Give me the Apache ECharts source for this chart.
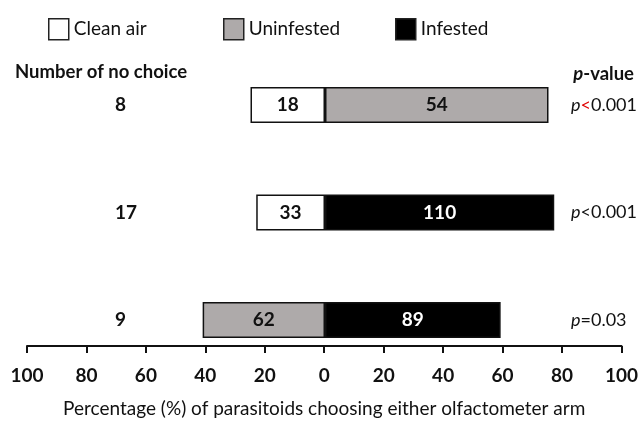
<!DOCTYPE html>
<html>
<head>
<meta charset="utf-8">
<script src="https://cdn.jsdelivr.net/npm/echarts@6/dist/echarts.min.js"></script>
<style>html,body{margin:0;padding:0;background:#fff}#c{width:641px;height:421px}</style>
</head>
<body>
<div id="c"></div>
<script>
// ---- data ----
const rows = ['Clean air vs Uninfested', 'Clean air vs Infested', 'Uninfested vs Infested'];
const noChoice = [8, 17, 9];
const leftOdour = ['Clean air', 'Clean air', 'Uninfested'];
const leftCounts = [18, 33, 62];
const rightOdour = ['Uninfested', 'Infested', 'Infested'];
const rightCounts = [54, 110, 89];
const pSign = ['<', '<', '='];
const pNumber = ['0.001', '0.001', '0.03'];
const pSignRed = [true, false, false];
const odours = ['Clean air', 'Uninfested', 'Infested'];
const odourColors = {'Clean air': '#ffffff', 'Uninfested': '#aeaaaa', 'Infested': '#000000'};
const odourLabelColors = {'Clean air': '#111', 'Uninfested': '#111', 'Infested': '#fff'};
const xMin = -100, xMax = 100, xStep = 20;

const FONT = 'Lato';

// build series data: left side negative percentage, right side positive
const series = odours.map(function (od) {
  const data = rows.map(function (r, i) {
    const total = leftCounts[i] + rightCounts[i];
    if (leftOdour[i] === od) return {value: -leftCounts[i] / total * 100, count: leftCounts[i]};
    if (rightOdour[i] === od) return {value: rightCounts[i] / total * 100, count: rightCounts[i]};
    return '-';
  });
  return {
    name: od,
    type: 'bar',
    stack: 'all',
    xAxisIndex: 0,
    yAxisIndex: 0,
    barWidth: 36,
    data: data,
    itemStyle: {color: odourColors[od], borderColor: '#111', borderWidth: 1.5},
    label: {
      show: true,
      position: 'inside',
      formatter: function (p) { return p.data.count; },
      color: odourLabelColors[od],
      fontFamily: FONT,
      fontWeight: 'bold',
      fontSize: 19
    },
    emphasis: {disabled: true}
  };
});

const legendPos = [43, 218, 390];
const legends = odours.map(function (od, i) {
  return {
    data: [od],
    left: legendPos[i],
    top: 13,
    itemWidth: 20,
    itemHeight: 21,
    itemGap: 0,
    icon: 'rect',
    itemStyle: {borderColor: '#222', borderWidth: 1.5},
    textStyle: {fontFamily: FONT, fontSize: 19, color: '#111'},
    selectedMode: false
  };
});

const chart = echarts.init(document.getElementById('c'), null, {renderer: 'canvas'});
chart.setOption({
  animation: false,
  backgroundColor: '#fff',
  title: [
    {text: 'Number of no choice', left: 10, top: 58,
     textStyle: {fontFamily: FONT, fontSize: 18.5, fontWeight: 'bold', color: '#111'}},
    {text: '{i|p}{b|-value}', right: 2, top: 60,
     textStyle: {rich: {
       i: {fontFamily: FONT, fontSize: 18.5, fontWeight: 'bold', fontStyle: 'italic', color: '#111'},
       b: {fontFamily: FONT, fontSize: 18.5, fontWeight: 'bold', color: '#111'}
     }}}
  ],
  legend: legends,
  grid: [
    {left: 27, right: 18, top: 51.25, height: 322.5},
    {left: 27, right: 18, top: 345, height: 1}
  ],
  xAxis: [
    {gridIndex: 0, type: 'value', min: xMin, max: xMax, interval: xStep, show: false},
    {gridIndex: 1, type: 'value', min: xMin, max: xMax, interval: xStep, position: 'bottom',
     axisLine: {show: true, lineStyle: {color: '#111', width: 2}},
     axisTick: {show: true, length: 7, lineStyle: {color: '#111', width: 2}},
     splitLine: {show: false},
     axisLabel: {formatter: function (v) { return Math.abs(v); }, margin: 20,
       fontFamily: FONT, fontSize: 19, fontWeight: 'bold', color: '#111',
       showMinLabel: true, showMaxLabel: true},
     name: 'Percentage (%) of parasitoids choosing either olfactometer arm',
     nameLocation: 'middle', nameGap: 53,
     nameTextStyle: {fontFamily: FONT, fontSize: 19, color: '#111'}}
  ],
  yAxis: [
    {gridIndex: 0, type: 'category', data: rows, inverse: true, position: 'left',
     axisLine: {show: false}, axisTick: {show: false}, splitLine: {show: false},
     axisLabel: {inside: true, margin: 88, align: 'left',
       formatter: function (v, i) { return noChoice[i]; },
       fontFamily: FONT, fontSize: 19, fontWeight: 'bold', color: '#111', padding: [17, 0, 0, 0]}},
    {gridIndex: 0, type: 'category', data: rows, inverse: true, position: 'right',
     axisLine: {show: false}, axisTick: {show: false}, splitLine: {show: false},
     axisLabel: {inside: true, margin: 52, align: 'left',
       formatter: function (v, i) {
         return '{i|p}' + (pSignRed[i] ? '{r|' : '{n|') + pSign[i] + '}{n|' + pNumber[i] + '}';
       },
       rich: {
         i: {fontFamily: FONT, fontSize: 18, fontStyle: 'italic', color: '#111'},
         r: {fontFamily: FONT, fontSize: 18, color: '#e00000'},
         n: {fontFamily: FONT, fontSize: 18, color: '#111'}
       }}},
    {gridIndex: 1, type: 'value', show: false}
  ],
  series: series
});
</script>
</body>
</html>
